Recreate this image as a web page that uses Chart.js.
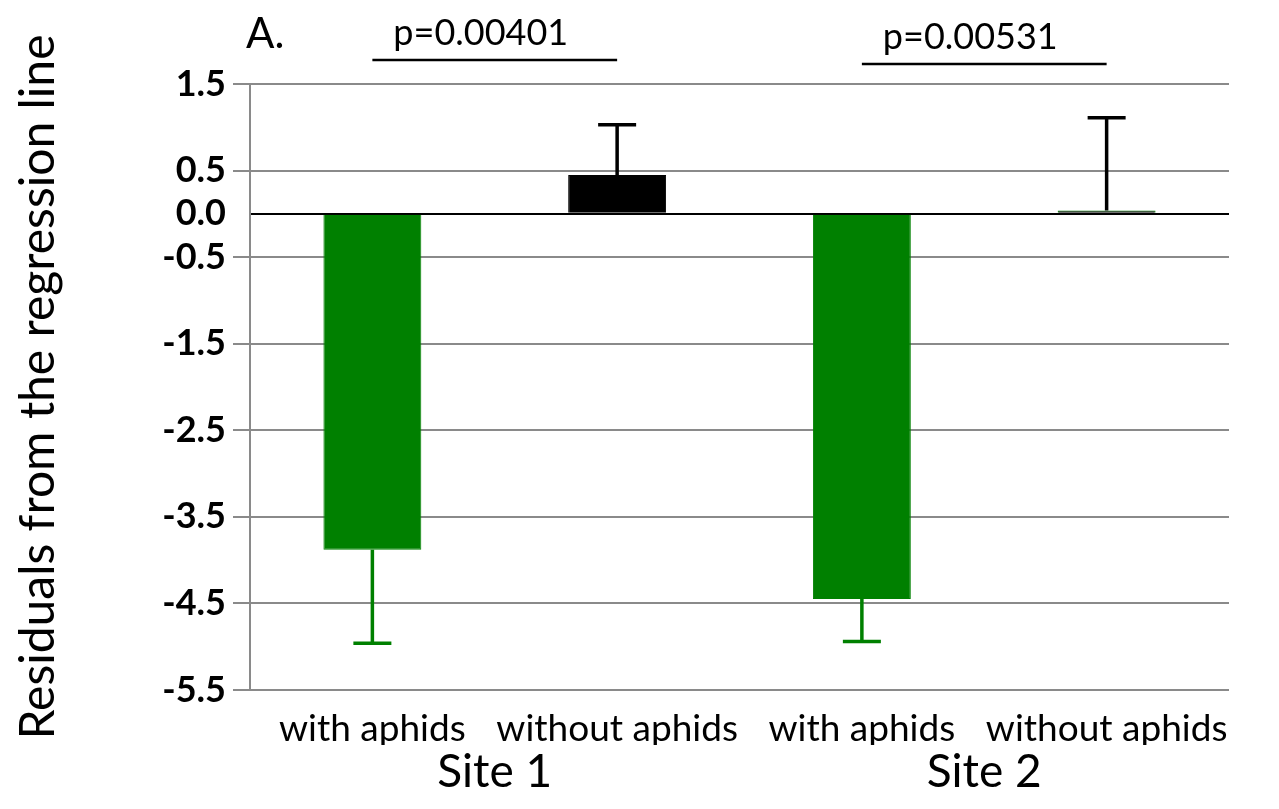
<!DOCTYPE html>
<html>
<head>
<meta charset="utf-8">
<script src="https://cdn.jsdelivr.net/npm/chart.js@4.4.1/dist/chart.umd.min.js"></script>
<style>
  html, body { margin: 0; padding: 0; background: #ffffff; }
  #wrap { position: relative; width: 1279px; height: 809px; }
</style>
</head>
<body>
<div id="wrap"><canvas id="chart" width="1279" height="809"></canvas></div>
<script>
// Residuals per treatment, grouped by site
const categories = ['with aphids', 'without aphids', 'with aphids', 'without aphids'];
const sites = ['Site 1', 'Site 2'];
const residuals = [-3.88, 0.45, -4.45, 0.04];
const errors = [1.08, 0.58, 0.49, 1.07];
// which side of the bar each error whisker is drawn on (-1 down, +1 up)
const errorSide = [-1, 1, -1, 1];
const yTicks = [1.5, 0.5, 0.0, -0.5, -1.5, -2.5, -3.5, -4.5, -5.5];
const pLabels = ['p=0.00401', 'p=0.00531'];
const pPairs = [[0, 1], [2, 3]];
const panelLabel = 'A.';

const GREEN = '#008000';
const BLACK = '#000000';
const GRID = '#8a8a8a';
const FONT = 'Lato, "Open Sans", sans-serif';

const barFill = [GREEN, BLACK, GREEN, BLACK];
const barEdge = [GREEN, BLACK, GREEN, GREEN];
const whiskerColor = [GREEN, BLACK, GREEN, BLACK];

// one-sided error whiskers with caps
const errorBars = {
  id: 'errorBars',
  afterDatasetsDraw(chart) {
    const { ctx, scales } = chart;
    const meta = chart.getDatasetMeta(0);
    ctx.save();
    meta.data.forEach((bar, i) => {
      const x = bar.x;
      const y0 = scales.y.getPixelForValue(residuals[i]);
      const y1 = scales.y.getPixelForValue(residuals[i] + errorSide[i] * errors[i]);
      ctx.strokeStyle = whiskerColor[i];
      ctx.lineWidth = 3.5;
      ctx.beginPath();
      ctx.moveTo(x, y0);
      ctx.lineTo(x, y1);
      ctx.moveTo(x - 19, y1);
      ctx.lineTo(x + 19, y1);
      ctx.stroke();
    });
    ctx.restore();
  }
};

// significance brackets and panel letter above the plot
const annotations = {
  id: 'annotations',
  afterDraw(chart) {
    const { ctx, scales, chartArea } = chart;
    ctx.save();
    ctx.fillStyle = '#000';
    ctx.strokeStyle = '#000';
    ctx.textAlign = 'center';
    ctx.textBaseline = 'alphabetic';
    ctx.font = '36px ' + FONT;
    pPairs.forEach((pair, k) => {
      const xa = scales.x.getPixelForValue(pair[0]);
      const xb = scales.x.getPixelForValue(pair[1]);
      const yl = chartArea.top - 24 + k * 4;
      ctx.lineWidth = 2.5;
      ctx.beginPath();
      ctx.moveTo(xa, yl);
      ctx.lineTo(xb, yl);
      ctx.stroke();
      ctx.fillText(pLabels[k], (xa + xb) / 2 - 14, yl - 15);
    });
    ctx.textAlign = 'left';
    ctx.font = '42px ' + FONT;
    ctx.fillText(panelLabel, chartArea.left - 4, 48);
    ctx.restore();
  }
};

new Chart(document.getElementById('chart'), {
  type: 'bar',
  data: {
    labels: categories,
    datasets: [{
      data: residuals,
      backgroundColor: barFill,
      borderColor: barEdge,
      borderWidth: 1,
      categoryPercentage: 1.0,
      barPercentage: 0.4,
      xAxisID: 'x',
      yAxisID: 'y'
    }]
  },
  options: {
    responsive: false,
    animation: false,
    devicePixelRatio: 1,
    layout: { padding: { top: 84, right: 50, left: 0, bottom: 0 } },
    plugins: { legend: { display: false }, tooltip: { enabled: false } },
    scales: {
      y: {
        min: -5.5,
        max: 1.5,
        afterBuildTicks(scale) {
          scale.ticks = yTicks.map(v => ({ value: v }));
        },
        afterFit(scale) { scale.width = 250; },
        ticks: {
          color: '#000',
          padding: 7,
          font: { family: FONT, size: 36, weight: 'bold' },
          callback: v => Number(v).toFixed(1)
        },
        grid: {
          color: c => (c.tick && c.tick.value === 0 ? BLACK : GRID),
          tickColor: c => (c.tick && c.tick.value === 0 ? 'rgba(0,0,0,0)' : GRID),
          lineWidth: 2,
          tickLength: 17
        },
        border: { display: true, color: GRID, width: 2 },
        title: {
          display: true,
          text: 'Residuals from the regression line',
          color: '#000',
          font: { family: FONT, size: 48 },
          padding: { top: 10, bottom: 0 }
        }
      },
      x: {
        position: 'bottom',
        afterFit(scale) { scale.height = 55; },
        grid: { display: false, drawTicks: false },
        border: { display: false },
        ticks: {
          color: '#000',
          padding: 17,
          maxRotation: 0,
          autoSkip: false,
          font: { family: FONT, size: 37 }
        }
      },
      x2: {
        type: 'category',
        labels: sites,
        position: 'bottom',
        afterFit(scale) { scale.height = 64; },
        grid: { display: false, drawTicks: false },
        border: { display: false },
        ticks: {
          color: '#000',
          padding: 0,
          maxRotation: 0,
          font: { family: FONT, size: 46 }
        }
      }
    }
  },
  plugins: [errorBars, annotations]
});
</script>
</body>
</html>
